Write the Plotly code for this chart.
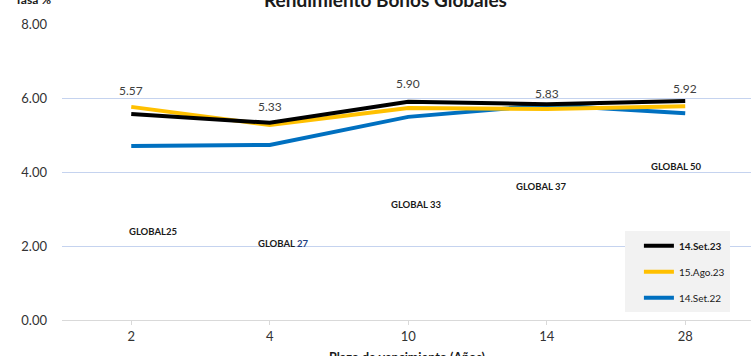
import plotly.graph_objects as go

categories = ["2", "4", "10", "14", "28"]
set23 = [5.57, 5.33, 5.90, 5.83, 5.92]
ago23 = [5.76, 5.27, 5.73, 5.70, 5.78]
set22 = [4.70, 4.73, 5.49, 5.81, 5.59]
label_shift = [23, 16, 18, 11, 12]
bond_labels = ["GLOBAL25", "GLOBAL <span style='color:#1f3f7f'>27</span>", "GLOBAL 33", "GLOBAL 37", "GLOBAL 50"]
bond_label_y = [2.38, 2.08, 3.11, 3.60, 4.14]
bond_label_dx = [22, 13, 8, -6, -9]

FONT = "Lato"
fig = go.Figure()
series = [("<b>14.Set.23</b>", set23, "#000000"),
          ("15.Ago.23", ago23, "#ffc000"),
          ("14.Set.22", set22, "#0070c0")]
# draw order: blue bottom, yellow, black on top; legend order black, yellow, blue
for i, (name, vals, col) in enumerate(reversed(series)):
    fig.add_trace(go.Scatter(x=categories, y=vals, mode="lines", name=name,
                             line=dict(color=col, width=4), legendgroup=name,
                             legendrank=3 - i))

annotations = []
for i, (v, s) in enumerate(zip(set23, label_shift)):
    annotations.append(dict(x=i, y=v, text=f"{v:.2f}", showarrow=False,
                            yanchor="middle", yshift=s,
                            font=dict(family=FONT, size=12, color="#404040")))
for i, (t, y, dx) in enumerate(zip(bond_labels, bond_label_y, bond_label_dx)):
    annotations.append(dict(x=i, y=y, text=f"<b>{t}</b>", showarrow=False, xshift=dx,
                            yanchor="middle",
                            font=dict(family=FONT, size=9.5, color="#1a1a1a")))
annotations.append(dict(x=0.47, y=1, xref="paper", yref="paper", xanchor="center",
                        yanchor="middle", yshift=25,
                        text="<b>Rendimiento Bonos Globales</b>", showarrow=False,
                        font=dict(family=FONT, size=19, color="#1a1a1a")))
annotations.append(dict(x=0, y=1, xref="paper", yref="paper", xanchor="center",
                        yanchor="middle", xshift=-29, yshift=25,
                        text="<b>Tasa %</b>", showarrow=False,
                        font=dict(family=FONT, size=12, color="#1a1a1a")))
annotations.append(dict(x=0.501, y=0, xref="paper", yref="paper", xanchor="center",
                        yanchor="middle", yshift=-37,
                        text="<b>Plazo de vencimiento (Años)</b>", showarrow=False,
                        font=dict(family=FONT, size=12.5, color="#1a1a1a")))

fig.update_layout(
    width=751, height=356, margin=dict(l=62, r=0, t=24, b=36, autoexpand=False),
    paper_bgcolor="white", plot_bgcolor="white",
    font=dict(family=FONT, size=13, color="#333333"),
    annotations=annotations,
    showlegend=True,
    legend=dict(x=0.817, y=0.30, xanchor="left", yanchor="top", indentation=14,
                bgcolor="#f2f2f2", font=dict(family=FONT, size=10, color="#1a1a1a"),
                tracegroupgap=7, itemwidth=30),
    xaxis=dict(type="category", range=[-0.5, 4.475], showgrid=False, automargin=False,
               showline=True, linecolor="#d9d9d9", linewidth=1,
               ticks="outside", tickcolor="#d9d9d9", ticklen=4,
               tickfont=dict(family=FONT, size=13, color="#333333")),
    yaxis=dict(range=[0, 8], dtick=2, tickformat=".2f", showgrid=True, automargin=False,
               gridcolor="#c5d3ef", gridwidth=1, zeroline=False,
               tickfont=dict(family=FONT, size=13, color="#333333"), ticklabelstandoff=14),
)
fig.write_html("out.html")
